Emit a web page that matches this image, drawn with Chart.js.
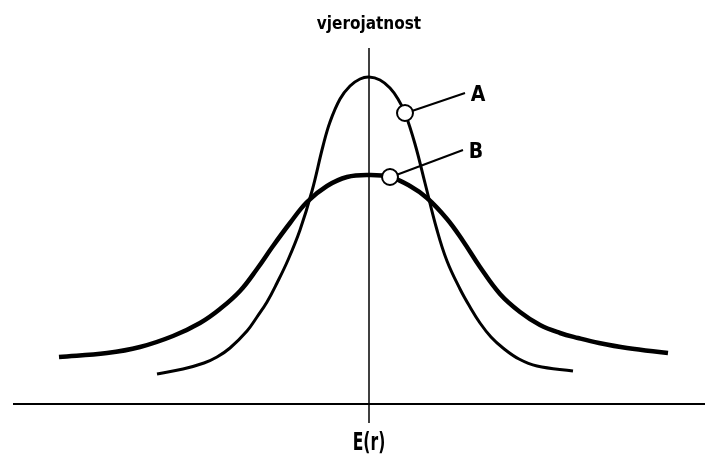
<!DOCTYPE html>
<html>
<head>
<meta charset="utf-8">
<script src="https://cdn.jsdelivr.net/npm/chart.js@4.4.0/dist/chart.umd.min.js"></script>
<style>
  html, body { margin: 0; padding: 0; background: #fff; }
  #wrap { width: 705px; height: 455px; }
</style>
</head>
<body>
<div id="wrap"><canvas id="myChart" width="705" height="455"></canvas></div>
<script>
// values: x is distance from E(r), y is height above the axis
var curveAx = [-212, -186, -165, -152, -139, -122, -112, -102, -92, -81, -69, -57, -46, -39, -29, -19, -9, 0, 11, 21, 29, 36, 46, 56, 68, 78, 91, 101, 111, 122, 134, 150, 168, 204]
var curveAy = [30, 35, 41, 47, 56, 73, 87, 102, 121, 144, 174, 213, 258, 282, 305, 318, 325, 327, 324, 316, 305, 291, 260, 221, 174, 143, 115, 97, 81, 67, 56, 45, 38, 33]

var curveBx = [-310, -262, -229, -196, -169, -149, -129, -112, -96, -79, -62, -42, -22, 0, 21, 41, 58, 78, 94, 111, 131, 151, 171, 191, 209, 230, 258, 299]
var curveBy = [47, 51, 57, 68, 81, 95, 113, 135, 158, 181, 202, 218, 227, 229, 227, 218, 206, 185, 163, 137, 110, 92, 79, 71, 66, 61, 56, 51]

var markerNames = ["A", "B"]
var markerX = [36, 21]
var markerY = [291, 227]
var labelX = [109, 107]
var labelY = [308, 251]

var axisTitleY = "vjerojatnost"
var axisTitleX = "E(r)"

function toPoints(xs, ys) {
    var pts = []
    xs.forEach((x, i) => { pts.push({x: x, y: ys[i]}) })
    return pts
}

// leader lines go from the marker to a bit before the letter
var leaders = markerNames.map((n, i) => {
    var dx = labelX[i] - 13 - markerX[i]
    var dy = labelY[i] - markerY[i]
    var len = Math.sqrt(dx * dx + dy * dy)
    return {
        label: "leader " + n,
        data: [{x: markerX[i] + dx / len * 8, y: markerY[i] + dy / len * 8}, {x: labelX[i] - 13, y: labelY[i] + 3}],
        showLine: true,
        borderColor: "#000",
        borderWidth: 2,
        pointRadius: 0,
        order: 2
    }
})

var textPlugin = {
    id: "textPlugin",
    afterDatasetsDraw(chart) {
        var ctx = chart.ctx
        var xs = chart.scales.x
        var ys = chart.scales.y
        ctx.save()
        ctx.fillStyle = "#000"
        ctx.textAlign = "center"
        ctx.textBaseline = "alphabetic"
        ctx.font = "bold 17px 'DejaVu Sans Condensed', 'Liberation Sans Narrow', sans-serif"
        ctx.fillText(axisTitleY, xs.getPixelForValue(0), 29)
        // E(r) is tall and narrow in the original
        ctx.save()
        ctx.translate(xs.getPixelForValue(0), 450)
        ctx.scale(0.72, 1)
        ctx.font = "bold 24px 'DejaVu Sans Condensed', 'Liberation Sans Narrow', sans-serif"
        ctx.fillText(axisTitleX, 0, 0)
        ctx.restore()
        ctx.textBaseline = "middle"
        ctx.font = "bold 21px 'DejaVu Sans Condensed', 'Liberation Sans Narrow', sans-serif"
        markerNames.forEach((n, i) => {
            ctx.fillText(n, xs.getPixelForValue(labelX[i]), ys.getPixelForValue(labelY[i]))
        })
        ctx.restore()
    }
}

var myChart = document.getElementById("myChart")
var chart = new Chart(myChart, {
    type: "scatter",
    data: {
        datasets: [{
            label: "markers",
            data: toPoints(markerX, markerY),
            pointRadius: 8,
            pointBackgroundColor: "#fff",
            pointBorderColor: "#000",
            pointBorderWidth: 2,
            order: 0
        }, {
            label: "A",
            data: toPoints(curveAx, curveAy),
            showLine: true,
            borderColor: "#000",
            borderWidth: 3,
            pointRadius: 0,
            tension: 0.4,
            order: 1
        }, {
            label: "B",
            data: toPoints(curveBx, curveBy),
            showLine: true,
            borderColor: "#000",
            borderWidth: 4.5,
            pointRadius: 0,
            tension: 0.4,
            order: 1
        }, {
            label: "horizontal axis",
            data: [{x: -356, y: 0}, {x: 336, y: 0}],
            showLine: true,
            borderColor: "#000",
            borderWidth: 2,
            pointRadius: 0,
            order: 3
        }, {
            label: "vertical axis",
            data: [{x: 0, y: -19}, {x: 0, y: 356}],
            showLine: true,
            borderColor: "#000",
            borderWidth: 1.5,
            pointRadius: 0,
            order: 3
        }].concat(leaders)
    },
    options: {
        responsive: false,
        animation: false,
        layout: {padding: 0, autoPadding: false},
        plugins: {legend: {display: false}, tooltip: {enabled: false}},
        scales: {
            x: {type: "linear", min: -369, max: 336, display: false},
            y: {type: "linear", min: -51, max: 404, display: false}
        }
    },
    plugins: [textPlugin]
})
</script>
</body>
</html>
